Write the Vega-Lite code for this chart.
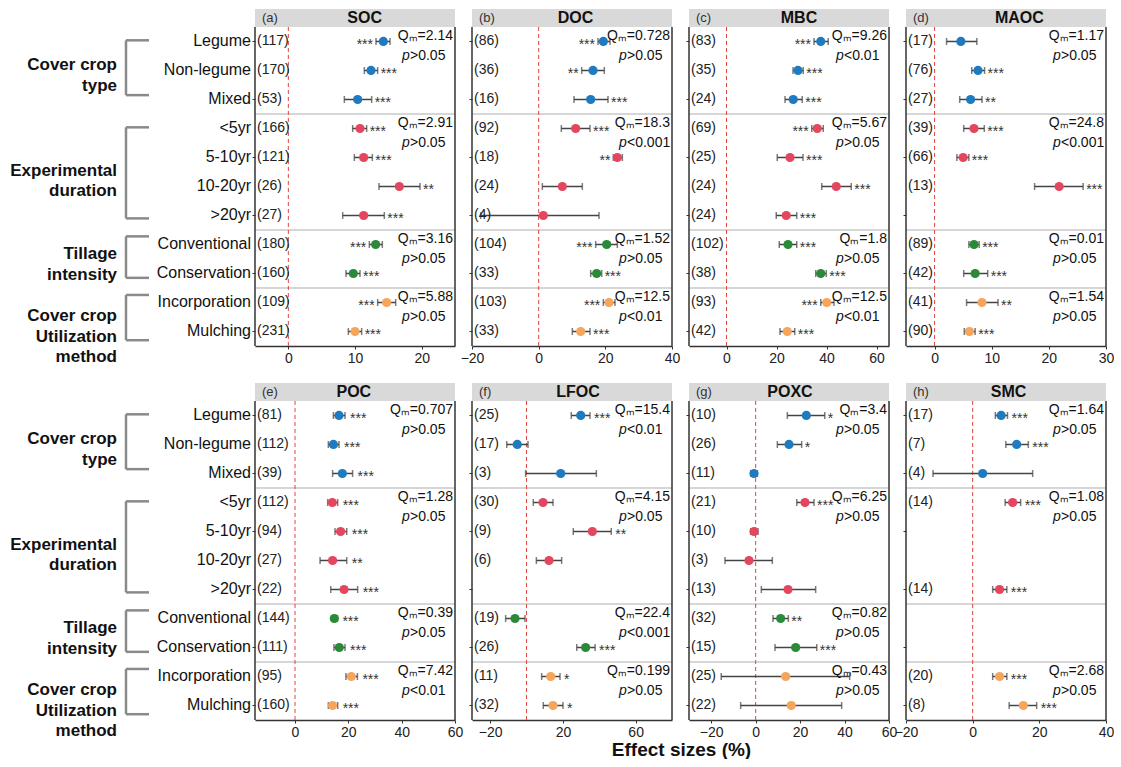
{
"$schema":"https://vega.github.io/schema/vega-lite/v6.json",
"padding":{"left":0,"top":9,"right":0,"bottom":0},
"autosize":{"type":"pad"},
"background":"white",
"bounds":"flush",
"align":"each",
"columns":5,
"spacing":{"row":37,"column":17},
"config":{"font":"Liberation Sans","view":{"stroke":null},
"axis":{"grid":false,"tickColor":"#333333","tickSize":3,"tickWidth":1,"labelFlush":false,"labelOverlap":false,"domainColor":"#333333"},
"axisX":{"domainWidth":1.5,"labelFontSize":14,"labelColor":"#222222","labelPadding":2},
"axisY":{"domain":false,"labels":false}},
"datasets":{
"cats":[
{"row":1,"cat":"Legume"},{"row":2,"cat":"Non-legume"},{"row":3,"cat":"Mixed"},{"row":4,"cat":"<5yr"},{"row":5,"cat":"5-10yr"},{"row":6,"cat":"10-20yr"},{"row":7,"cat":">20yr"},{"row":8,"cat":"Conventional"},{"row":9,"cat":"Conservation"},{"row":10,"cat":"Incorporation"},{"row":11,"cat":"Mulching"}],
"groups":[
{"label":"Cover crop\ntype","mid":1.82,"top":0.96,"bottom":2.85},
{"label":"Experimental\nduration","mid":5.46,"top":3.96,"bottom":7.1},
{"label":"Tillage\nintensity","mid":8.33,"top":7.72,"bottom":9.15},
{"label":"Cover crop\nUtilization\nmethod","mid":10.47,"top":9.74,"bottom":11.3}],
"stats":[
{"p":"SOC","row":1,"q":"2.14","pv":">0.05"},{"p":"SOC","row":4,"q":"2.91","pv":">0.05"},{"p":"SOC","row":8,"q":"3.16","pv":">0.05"},{"p":"SOC","row":10,"q":"5.88","pv":">0.05"},
{"p":"DOC","row":1,"q":"0.728","pv":">0.05"},{"p":"DOC","row":4,"q":"18.3","pv":"<0.001"},{"p":"DOC","row":8,"q":"1.52","pv":">0.05"},{"p":"DOC","row":10,"q":"12.5","pv":"<0.01"},
{"p":"MBC","row":1,"q":"9.26","pv":"<0.01"},{"p":"MBC","row":4,"q":"5.67","pv":">0.05"},{"p":"MBC","row":8,"q":"1.8","pv":">0.05"},{"p":"MBC","row":10,"q":"12.5","pv":"<0.01"},
{"p":"MAOC","row":1,"q":"1.17","pv":">0.05"},{"p":"MAOC","row":4,"q":"24.8","pv":"<0.001"},{"p":"MAOC","row":8,"q":"0.01","pv":">0.05"},{"p":"MAOC","row":10,"q":"1.54","pv":">0.05"},
{"p":"POC","row":1,"q":"0.707","pv":">0.05"},{"p":"POC","row":4,"q":"1.28","pv":">0.05"},{"p":"POC","row":8,"q":"0.39","pv":">0.05"},{"p":"POC","row":10,"q":"7.42","pv":"<0.01"},
{"p":"LFOC","row":1,"q":"15.4","pv":"<0.01"},{"p":"LFOC","row":4,"q":"4.15","pv":">0.05"},{"p":"LFOC","row":8,"q":"22.4","pv":"<0.001"},{"p":"LFOC","row":10,"q":"0.199","pv":">0.05"},
{"p":"POXC","row":1,"q":"3.4","pv":">0.05"},{"p":"POXC","row":4,"q":"6.25","pv":">0.05"},{"p":"POXC","row":8,"q":"0.82","pv":">0.05"},{"p":"POXC","row":10,"q":"0.43","pv":">0.05"},
{"p":"SMC","row":1,"q":"1.64","pv":">0.05"},{"p":"SMC","row":4,"q":"1.08","pv":">0.05"},{"p":"SMC","row":10,"q":"2.68","pv":">0.05"}],
"rows":[
{"p":"SOC","row":1,"n":117,"est":14.25,"lo":13.15,"hi":15.25,"s":"***","side":"L"},
{"p":"SOC","row":2,"n":170,"est":12.4,"lo":11.4,"hi":13.4,"s":"***","side":"R"},
{"p":"SOC","row":3,"n":53,"est":10.4,"lo":8.4,"hi":12.5,"s":"***","side":"R"},
{"p":"SOC","row":4,"n":166,"est":10.75,"lo":9.65,"hi":11.75,"s":"***","side":"R"},
{"p":"SOC","row":5,"n":121,"est":11.3,"lo":9.9,"hi":12.6,"s":"***","side":"R"},
{"p":"SOC","row":6,"n":26,"est":16.65,"lo":13.6,"hi":19.75,"s":"**","side":"R"},
{"p":"SOC","row":7,"n":27,"est":11.3,"lo":8.15,"hi":14.4,"s":"***","side":"R"},
{"p":"SOC","row":8,"n":180,"est":13.1,"lo":12.15,"hi":14.1,"s":"***","side":"L"},
{"p":"SOC","row":9,"n":160,"est":9.75,"lo":8.65,"hi":10.75,"s":"***","side":"R"},
{"p":"SOC","row":10,"n":109,"est":14.75,"lo":13.4,"hi":16.1,"s":"***","side":"L"},
{"p":"SOC","row":11,"n":231,"est":10.0,"lo":9.0,"hi":11.0,"s":"***","side":"R"},
{"p":"DOC","row":1,"n":86,"est":19.4,"lo":17.8,"hi":21.4,"s":"***","side":"L"},
{"p":"DOC","row":2,"n":36,"est":16.3,"lo":12.9,"hi":19.7,"s":"**","side":"L"},
{"p":"DOC","row":3,"n":16,"est":15.6,"lo":10.6,"hi":20.8,"s":"***","side":"R"},
{"p":"DOC","row":4,"n":92,"est":11.1,"lo":6.8,"hi":15.4,"s":"***","side":"R"},
{"p":"DOC","row":5,"n":18,"est":23.6,"lo":22.4,"hi":25.1,"s":"**","side":"L"},
{"p":"DOC","row":6,"n":24,"est":7.1,"lo":1.1,"hi":13.1,"s":"","side":"N"},
{"p":"DOC","row":7,"n":4,"est":1.4,"lo":-17.4,"hi":18.1,"s":"","side":"N"},
{"p":"DOC","row":8,"n":104,"est":20.4,"lo":17.1,"hi":23.6,"s":"***","side":"L"},
{"p":"DOC","row":9,"n":33,"est":17.4,"lo":15.6,"hi":18.9,"s":"***","side":"R"},
{"p":"DOC","row":10,"n":103,"est":21.1,"lo":19.4,"hi":22.9,"s":"***","side":"L"},
{"p":"DOC","row":11,"n":33,"est":12.6,"lo":10.1,"hi":15.4,"s":"***","side":"R"},
{"p":"MBC","row":1,"n":83,"est":37.7,"lo":35.0,"hi":40.7,"s":"***","side":"L"},
{"p":"MBC","row":2,"n":35,"est":28.6,"lo":26.6,"hi":30.7,"s":"***","side":"R"},
{"p":"MBC","row":3,"n":24,"est":26.7,"lo":23.4,"hi":30.3,"s":"***","side":"R"},
{"p":"MBC","row":4,"n":69,"est":36.3,"lo":34.1,"hi":38.7,"s":"***","side":"L"},
{"p":"MBC","row":5,"n":25,"est":25.4,"lo":20.3,"hi":30.6,"s":"***","side":"R"},
{"p":"MBC","row":6,"n":24,"est":43.9,"lo":38.1,"hi":49.9,"s":"***","side":"R"},
{"p":"MBC","row":7,"n":24,"est":23.9,"lo":19.9,"hi":28.1,"s":"***","side":"R"},
{"p":"MBC","row":8,"n":102,"est":24.6,"lo":21.1,"hi":28.1,"s":"***","side":"R"},
{"p":"MBC","row":9,"n":38,"est":37.7,"lo":35.7,"hi":39.9,"s":"***","side":"R"},
{"p":"MBC","row":10,"n":93,"est":40.1,"lo":37.7,"hi":43.0,"s":"***","side":"L"},
{"p":"MBC","row":11,"n":42,"est":24.3,"lo":21.4,"hi":27.3,"s":"***","side":"R"},
{"p":"MAOC","row":1,"n":17,"est":4.6,"lo":2.1,"hi":7.4,"s":"","side":"N"},
{"p":"MAOC","row":2,"n":76,"est":7.6,"lo":6.5,"hi":8.75,"s":"***","side":"R"},
{"p":"MAOC","row":3,"n":27,"est":6.3,"lo":4.4,"hi":8.3,"s":"**","side":"R"},
{"p":"MAOC","row":4,"n":39,"est":6.9,"lo":5.1,"hi":8.7,"s":"***","side":"R"},
{"p":"MAOC","row":5,"n":66,"est":5.0,"lo":3.9,"hi":6.0,"s":"***","side":"R"},
{"p":"MAOC","row":6,"n":13,"est":21.8,"lo":17.5,"hi":26.0,"s":"***","side":"R"},
{"p":"MAOC","row":8,"n":89,"est":6.9,"lo":6.0,"hi":7.8,"s":"***","side":"R"},
{"p":"MAOC","row":9,"n":42,"est":7.1,"lo":5.1,"hi":9.3,"s":"***","side":"R"},
{"p":"MAOC","row":10,"n":41,"est":8.3,"lo":5.6,"hi":11.1,"s":"**","side":"R"},
{"p":"MAOC","row":11,"n":90,"est":6.1,"lo":5.2,"hi":7.1,"s":"***","side":"R"},
{"p":"POC","row":1,"n":81,"est":16.5,"lo":14.4,"hi":18.75,"s":"***","side":"R"},
{"p":"POC","row":2,"n":112,"est":14.4,"lo":12.5,"hi":16.5,"s":"***","side":"R"},
{"p":"POC","row":3,"n":39,"est":17.75,"lo":14.1,"hi":21.6,"s":"***","side":"R"},
{"p":"POC","row":4,"n":112,"est":14.0,"lo":12.25,"hi":16.0,"s":"***","side":"R"},
{"p":"POC","row":5,"n":94,"est":17.1,"lo":15.0,"hi":19.4,"s":"***","side":"R"},
{"p":"POC","row":6,"n":27,"est":14.1,"lo":9.4,"hi":19.4,"s":"**","side":"R"},
{"p":"POC","row":7,"n":22,"est":18.4,"lo":13.4,"hi":23.5,"s":"***","side":"R"},
{"p":"POC","row":8,"n":144,"est":14.75,"lo":13.75,"hi":15.9,"s":"***","side":"R"},
{"p":"POC","row":9,"n":111,"est":16.6,"lo":14.6,"hi":18.75,"s":"***","side":"R"},
{"p":"POC","row":10,"n":95,"est":21.1,"lo":19.1,"hi":23.4,"s":"***","side":"R"},
{"p":"POC","row":11,"n":160,"est":14.1,"lo":12.5,"hi":16.0,"s":"***","side":"R"},
{"p":"LFOC","row":1,"n":25,"est":29.8,"lo":24.6,"hi":34.9,"s":"***","side":"R"},
{"p":"LFOC","row":2,"n":17,"est":-5.1,"lo":-10.9,"hi":0.8,"s":"","side":"N"},
{"p":"LFOC","row":3,"n":3,"est":18.8,"lo":-0.5,"hi":38.4,"s":"","side":"N"},
{"p":"LFOC","row":4,"n":30,"est":9.05,"lo":3.7,"hi":14.55,"s":"","side":"N"},
{"p":"LFOC","row":5,"n":9,"est":36.2,"lo":25.7,"hi":46.6,"s":"**","side":"R"},
{"p":"LFOC","row":6,"n":6,"est":12.35,"lo":5.4,"hi":19.3,"s":"","side":"N"},
{"p":"LFOC","row":8,"n":19,"est":-6.35,"lo":-11.5,"hi":-0.85,"s":"","side":"N"},
{"p":"LFOC","row":9,"n":26,"est":32.5,"lo":27.6,"hi":37.7,"s":"***","side":"R"},
{"p":"LFOC","row":10,"n":11,"est":13.3,"lo":8.3,"hi":18.4,"s":"*","side":"R"},
{"p":"LFOC","row":11,"n":32,"est":14.55,"lo":9.2,"hi":20.05,"s":"*","side":"R"},
{"p":"POXC","row":1,"n":10,"est":22.8,"lo":14.25,"hi":31.1,"s":"*","side":"R"},
{"p":"POXC","row":2,"n":26,"est":15.0,"lo":9.75,"hi":20.7,"s":"*","side":"R"},
{"p":"POXC","row":3,"n":11,"est":-0.75,"lo":-2.25,"hi":0.75,"s":"","side":"N"},
{"p":"POXC","row":4,"n":21,"est":22.2,"lo":18.5,"hi":26.25,"s":"***","side":"R"},
{"p":"POXC","row":5,"n":10,"est":-0.75,"lo":-2.25,"hi":1.05,"s":"","side":"N"},
{"p":"POXC","row":6,"n":3,"est":-3.0,"lo":-13.8,"hi":7.5,"s":"","side":"N"},
{"p":"POXC","row":7,"n":13,"est":14.55,"lo":2.55,"hi":27.0,"s":"","side":"N"},
{"p":"POXC","row":8,"n":32,"est":11.25,"lo":7.8,"hi":14.7,"s":"**","side":"R"},
{"p":"POXC","row":9,"n":15,"est":18.0,"lo":8.7,"hi":27.5,"s":"***","side":"R"},
{"p":"POXC","row":10,"n":25,"est":13.5,"lo":-15.5,"hi":42.3,"s":"","side":"N"},
{"p":"POXC","row":11,"n":22,"est":16.0,"lo":-6.75,"hi":38.7,"s":"","side":"N"},
{"p":"SMC","row":1,"n":17,"est":8.55,"lo":6.8,"hi":10.45,"s":"***","side":"R"},
{"p":"SMC","row":2,"n":7,"est":13.2,"lo":9.95,"hi":16.7,"s":"***","side":"R"},
{"p":"SMC","row":3,"n":4,"est":3.0,"lo":-11.9,"hi":18.0,"s":"","side":"N"},
{"p":"SMC","row":4,"n":14,"est":12.0,"lo":9.75,"hi":14.4,"s":"***","side":"R"},
{"p":"SMC","row":7,"n":14,"est":8.06,"lo":6.0,"hi":10.25,"s":"***","side":"R"},
{"p":"SMC","row":10,"n":20,"est":8.06,"lo":6.0,"hi":10.25,"s":"***","side":"R"},
{"p":"SMC","row":11,"n":8,"est":15.2,"lo":10.95,"hi":19.2,"s":"***","side":"R"}]
},
"concat":[
{"width":238,"height":337,"data":{"name":"groups"},"layer":[
{"mark":{"type":"text","align":"right","baseline":"middle","fontSize":17,"fontWeight":"bold","lineBreak":"\n","lineHeight":20.5,"color":"#111111"},"encoding":{"x":{"datum":117,"type":"quantitative","scale":{"domain":[0,238],"nice":false,"zero":false},"axis":null},"y":{"field":"mid","type":"quantitative","scale":{"domain":[-0.12,11.5],"reverse":true,"nice":false,"zero":false},"axis":null},"text":{"field":"label"}}},
{"mark":{"type":"rule","color":"#8a8a8a","strokeWidth":2.5},"encoding":{"x":{"datum":126,"type":"quantitative"},"y":{"field":"top","type":"quantitative"},"y2":{"field":"bottom"}}},
{"mark":{"type":"rule","color":"#8a8a8a","strokeWidth":2.5},"encoding":{"x":{"datum":126,"type":"quantitative"},"x2":{"datum":149},"y":{"field":"top","type":"quantitative"}}},
{"mark":{"type":"rule","color":"#8a8a8a","strokeWidth":2.5},"encoding":{"x":{"datum":126,"type":"quantitative"},"x2":{"datum":149},"y":{"field":"bottom","type":"quantitative"}}},
{"data":{"name":"cats"},"mark":{"type":"text","align":"right","baseline":"middle","fontSize":16,"color":"#111111"},"encoding":{"x":{"datum":251,"type":"quantitative"},"y":{"field":"row","type":"quantitative"},"text":{"field":"cat"}}}]},

{"width":200,"height":337,"data":{"name":"rows"},"transform":[{"filter":"datum.p === 'SOC'"}],"layer":[
{"data":{"values":[{}]},"mark":{"type":"rect","color":"#d9d9d9"},"encoding":{"x":{"datum":-5,"type":"quantitative","scale":{"domain":[-5,25],"nice":false,"zero":false},"axis":{"values":[0,10,20],"title":null}},"x2":{"datum":25},"y":{"datum":-0.12,"type":"quantitative","scale":{"domain":[-0.12,11.5],"reverse":true,"nice":false,"zero":false},"axis":{"values":[1,2,3,4,5,6,7,8,9,10,11],"title":null,"labels":false}},"y2":{"datum":0.5}}},
{"data":{"values":[{"b":3.5},{"b":7.5},{"b":9.5}]},"mark":{"type":"rule","color":"#c8c8c8","strokeWidth":1.5},"encoding":{"x":{"datum":-5,"type":"quantitative"},"x2":{"datum":25},"y":{"field":"b","type":"quantitative"}}},
{"data":{"values":[{}]},"mark":{"type":"rule","color":"#e0443f","strokeDash":[4,3],"strokeWidth":1},"encoding":{"x":{"datum":0,"type":"quantitative"},"y":{"datum":0.5,"type":"quantitative"},"y2":{"datum":11.5}}},
{"data":{"values":[{"e":-5},{"e":25}]},"mark":{"type":"rule","color":"#333333","strokeWidth":1.5},"encoding":{"x":{"field":"e","type":"quantitative"},"y":{"datum":0.5,"type":"quantitative"},"y2":{"datum":11.5}}},
{"mark":{"type":"rule","color":"#444444","strokeWidth":1.5},"encoding":{"x":{"field":"lo","type":"quantitative"},"x2":{"field":"hi"},"y":{"field":"row","type":"quantitative"}}},
{"mark":{"type":"tick","orient":"vertical","color":"#444444","size":7,"thickness":1.5},"encoding":{"x":{"field":"lo","type":"quantitative"},"y":{"field":"row","type":"quantitative"}}},
{"mark":{"type":"tick","orient":"vertical","color":"#444444","size":7,"thickness":1.5},"encoding":{"x":{"field":"hi","type":"quantitative"},"y":{"field":"row","type":"quantitative"}}},
{"mark":{"type":"circle","size":85,"opacity":1},"encoding":{"x":{"field":"est","type":"quantitative"},"y":{"field":"row","type":"quantitative"},"color":{"field":"row","type":"quantitative","scale":{"type":"threshold","domain":[3.5,7.5,9.5],"range":["#1f7bbf","#e4465f","#2a8a3a","#f6a55c"]},"legend":null}}},
{"transform":[{"calculate":"'(' + datum.n + ')'","as":"nt"}],"mark":{"type":"text","align":"left","baseline":"middle","dx":2,"fontSize":14,"color":"#222222"},"encoding":{"x":{"datum":-5,"type":"quantitative"},"y":{"field":"row","type":"quantitative"},"text":{"field":"nt"}}},
{"transform":[{"filter":"datum.side === 'L'"}],"mark":{"type":"text","align":"right","baseline":"middle","dx":-3,"dy":4,"fontSize":14,"color":"#333333"},"encoding":{"x":{"field":"lo","type":"quantitative"},"y":{"field":"row","type":"quantitative"},"text":{"field":"s"}}},
{"transform":[{"filter":"datum.side === 'R'"}],"mark":{"type":"text","align":"left","baseline":"middle","dx":3,"dy":4,"fontSize":14,"color":"#333333"},"encoding":{"x":{"field":"hi","type":"quantitative"},"y":{"field":"row","type":"quantitative"},"text":{"field":"s"}}},
{"data":{"name":"stats"},"transform":[{"filter":"datum.p === 'SOC'"},{"calculate":"'Qₘ=' + datum.q","as":"qt"}],"mark":{"type":"text","align":"right","baseline":"middle","dx":-2,"dy":-5,"fontSize":14,"color":"#111111"},"encoding":{"x":{"datum":25,"type":"quantitative"},"y":{"field":"row","type":"quantitative"},"text":{"field":"qt"}}},
{"data":{"name":"stats"},"transform":[{"filter":"datum.p === 'SOC'"}],"mark":{"type":"text","align":"left","baseline":"middle","dx":-53,"dy":15,"fontSize":14,"fontStyle":"italic","color":"#111111","text":"p"},"encoding":{"x":{"datum":25,"type":"quantitative"},"y":{"field":"row","type":"quantitative"}}},
{"data":{"name":"stats"},"transform":[{"filter":"datum.p === 'SOC'"}],"mark":{"type":"text","align":"left","baseline":"middle","dx":-45,"dy":15,"fontSize":14,"color":"#111111"},"encoding":{"x":{"datum":25,"type":"quantitative"},"y":{"field":"row","type":"quantitative"},"text":{"field":"pv"}}},
{"data":{"values":[{}]},"mark":{"type":"text","align":"left","baseline":"middle","dx":7,"fontSize":13,"color":"#333333","text":"(a)"},"encoding":{"x":{"datum":-5,"type":"quantitative"},"y":{"datum":0.19,"type":"quantitative"}}},
{"data":{"values":[{}]},"mark":{"type":"text","align":"center","baseline":"middle","fontSize":16,"fontWeight":"bold","color":"#111111","text":"SOC"},"encoding":{"x":{"datum":11.45,"type":"quantitative"},"y":{"datum":0.19,"type":"quantitative"}}}]},

{"width":200,"height":337,"data":{"name":"rows"},"transform":[{"filter":"datum.p === 'DOC'"}],"layer":[
{"data":{"values":[{}]},"mark":{"type":"rect","color":"#d9d9d9"},"encoding":{"x":{"datum":-20,"type":"quantitative","scale":{"domain":[-20,40],"nice":false,"zero":false},"axis":{"values":[-20,0,20,40],"title":null}},"x2":{"datum":40},"y":{"datum":-0.12,"type":"quantitative","scale":{"domain":[-0.12,11.5],"reverse":true,"nice":false,"zero":false},"axis":{"values":[1,2,3,4,5,6,7,8,9,10,11],"title":null,"labels":false}},"y2":{"datum":0.5}}},
{"data":{"values":[{"b":3.5},{"b":7.5},{"b":9.5}]},"mark":{"type":"rule","color":"#c8c8c8","strokeWidth":1.5},"encoding":{"x":{"datum":-20,"type":"quantitative"},"x2":{"datum":40},"y":{"field":"b","type":"quantitative"}}},
{"data":{"values":[{}]},"mark":{"type":"rule","color":"#e0443f","strokeDash":[4,3],"strokeWidth":1},"encoding":{"x":{"datum":0,"type":"quantitative"},"y":{"datum":0.5,"type":"quantitative"},"y2":{"datum":11.5}}},
{"data":{"values":[{"e":-20},{"e":40}]},"mark":{"type":"rule","color":"#333333","strokeWidth":1.5},"encoding":{"x":{"field":"e","type":"quantitative"},"y":{"datum":0.5,"type":"quantitative"},"y2":{"datum":11.5}}},
{"mark":{"type":"rule","color":"#444444","strokeWidth":1.5},"encoding":{"x":{"field":"lo","type":"quantitative"},"x2":{"field":"hi"},"y":{"field":"row","type":"quantitative"}}},
{"mark":{"type":"tick","orient":"vertical","color":"#444444","size":7,"thickness":1.5},"encoding":{"x":{"field":"lo","type":"quantitative"},"y":{"field":"row","type":"quantitative"}}},
{"mark":{"type":"tick","orient":"vertical","color":"#444444","size":7,"thickness":1.5},"encoding":{"x":{"field":"hi","type":"quantitative"},"y":{"field":"row","type":"quantitative"}}},
{"mark":{"type":"circle","size":85,"opacity":1},"encoding":{"x":{"field":"est","type":"quantitative"},"y":{"field":"row","type":"quantitative"},"color":{"field":"row","type":"quantitative","scale":{"type":"threshold","domain":[3.5,7.5,9.5],"range":["#1f7bbf","#e4465f","#2a8a3a","#f6a55c"]},"legend":null}}},
{"transform":[{"calculate":"'(' + datum.n + ')'","as":"nt"}],"mark":{"type":"text","align":"left","baseline":"middle","dx":2,"fontSize":14,"color":"#222222"},"encoding":{"x":{"datum":-20,"type":"quantitative"},"y":{"field":"row","type":"quantitative"},"text":{"field":"nt"}}},
{"transform":[{"filter":"datum.side === 'L'"}],"mark":{"type":"text","align":"right","baseline":"middle","dx":-3,"dy":4,"fontSize":14,"color":"#333333"},"encoding":{"x":{"field":"lo","type":"quantitative"},"y":{"field":"row","type":"quantitative"},"text":{"field":"s"}}},
{"transform":[{"filter":"datum.side === 'R'"}],"mark":{"type":"text","align":"left","baseline":"middle","dx":3,"dy":4,"fontSize":14,"color":"#333333"},"encoding":{"x":{"field":"hi","type":"quantitative"},"y":{"field":"row","type":"quantitative"},"text":{"field":"s"}}},
{"data":{"name":"stats"},"transform":[{"filter":"datum.p === 'DOC'"},{"calculate":"'Qₘ=' + datum.q","as":"qt"}],"mark":{"type":"text","align":"right","baseline":"middle","dx":-2,"dy":-5,"fontSize":14,"color":"#111111"},"encoding":{"x":{"datum":40,"type":"quantitative"},"y":{"field":"row","type":"quantitative"},"text":{"field":"qt"}}},
{"data":{"name":"stats"},"transform":[{"filter":"datum.p === 'DOC'"}],"mark":{"type":"text","align":"left","baseline":"middle","dx":-53,"dy":15,"fontSize":14,"fontStyle":"italic","color":"#111111","text":"p"},"encoding":{"x":{"datum":40,"type":"quantitative"},"y":{"field":"row","type":"quantitative"}}},
{"data":{"name":"stats"},"transform":[{"filter":"datum.p === 'DOC'"}],"mark":{"type":"text","align":"left","baseline":"middle","dx":-45,"dy":15,"fontSize":14,"color":"#111111"},"encoding":{"x":{"datum":40,"type":"quantitative"},"y":{"field":"row","type":"quantitative"},"text":{"field":"pv"}}},
{"data":{"values":[{}]},"mark":{"type":"text","align":"left","baseline":"middle","dx":7,"fontSize":13,"color":"#333333","text":"(b)"},"encoding":{"x":{"datum":-20,"type":"quantitative"},"y":{"datum":0.19,"type":"quantitative"}}},
{"data":{"values":[{}]},"mark":{"type":"text","align":"center","baseline":"middle","fontSize":16,"fontWeight":"bold","color":"#111111","text":"DOC"},"encoding":{"x":{"datum":11.05,"type":"quantitative"},"y":{"datum":0.19,"type":"quantitative"}}}]},

{"width":200,"height":337,"data":{"name":"rows"},"transform":[{"filter":"datum.p === 'MBC'"}],"layer":[
{"data":{"values":[{}]},"mark":{"type":"rect","color":"#d9d9d9"},"encoding":{"x":{"datum":-15,"type":"quantitative","scale":{"domain":[-15,65],"nice":false,"zero":false},"axis":{"values":[0,20,40,60],"title":null}},"x2":{"datum":65},"y":{"datum":-0.12,"type":"quantitative","scale":{"domain":[-0.12,11.5],"reverse":true,"nice":false,"zero":false},"axis":{"values":[1,2,3,4,5,6,7,8,9,10,11],"title":null,"labels":false}},"y2":{"datum":0.5}}},
{"data":{"values":[{"b":3.5},{"b":7.5},{"b":9.5}]},"mark":{"type":"rule","color":"#c8c8c8","strokeWidth":1.5},"encoding":{"x":{"datum":-15,"type":"quantitative"},"x2":{"datum":65},"y":{"field":"b","type":"quantitative"}}},
{"data":{"values":[{}]},"mark":{"type":"rule","color":"#e0443f","strokeDash":[4,3],"strokeWidth":1},"encoding":{"x":{"datum":0,"type":"quantitative"},"y":{"datum":0.5,"type":"quantitative"},"y2":{"datum":11.5}}},
{"data":{"values":[{"e":-15},{"e":65}]},"mark":{"type":"rule","color":"#333333","strokeWidth":1.5},"encoding":{"x":{"field":"e","type":"quantitative"},"y":{"datum":0.5,"type":"quantitative"},"y2":{"datum":11.5}}},
{"mark":{"type":"rule","color":"#444444","strokeWidth":1.5},"encoding":{"x":{"field":"lo","type":"quantitative"},"x2":{"field":"hi"},"y":{"field":"row","type":"quantitative"}}},
{"mark":{"type":"tick","orient":"vertical","color":"#444444","size":7,"thickness":1.5},"encoding":{"x":{"field":"lo","type":"quantitative"},"y":{"field":"row","type":"quantitative"}}},
{"mark":{"type":"tick","orient":"vertical","color":"#444444","size":7,"thickness":1.5},"encoding":{"x":{"field":"hi","type":"quantitative"},"y":{"field":"row","type":"quantitative"}}},
{"mark":{"type":"circle","size":85,"opacity":1},"encoding":{"x":{"field":"est","type":"quantitative"},"y":{"field":"row","type":"quantitative"},"color":{"field":"row","type":"quantitative","scale":{"type":"threshold","domain":[3.5,7.5,9.5],"range":["#1f7bbf","#e4465f","#2a8a3a","#f6a55c"]},"legend":null}}},
{"transform":[{"calculate":"'(' + datum.n + ')'","as":"nt"}],"mark":{"type":"text","align":"left","baseline":"middle","dx":2,"fontSize":14,"color":"#222222"},"encoding":{"x":{"datum":-15,"type":"quantitative"},"y":{"field":"row","type":"quantitative"},"text":{"field":"nt"}}},
{"transform":[{"filter":"datum.side === 'L'"}],"mark":{"type":"text","align":"right","baseline":"middle","dx":-3,"dy":4,"fontSize":14,"color":"#333333"},"encoding":{"x":{"field":"lo","type":"quantitative"},"y":{"field":"row","type":"quantitative"},"text":{"field":"s"}}},
{"transform":[{"filter":"datum.side === 'R'"}],"mark":{"type":"text","align":"left","baseline":"middle","dx":3,"dy":4,"fontSize":14,"color":"#333333"},"encoding":{"x":{"field":"hi","type":"quantitative"},"y":{"field":"row","type":"quantitative"},"text":{"field":"s"}}},
{"data":{"name":"stats"},"transform":[{"filter":"datum.p === 'MBC'"},{"calculate":"'Qₘ=' + datum.q","as":"qt"}],"mark":{"type":"text","align":"right","baseline":"middle","dx":-2,"dy":-5,"fontSize":14,"color":"#111111"},"encoding":{"x":{"datum":65,"type":"quantitative"},"y":{"field":"row","type":"quantitative"},"text":{"field":"qt"}}},
{"data":{"name":"stats"},"transform":[{"filter":"datum.p === 'MBC'"}],"mark":{"type":"text","align":"left","baseline":"middle","dx":-53,"dy":15,"fontSize":14,"fontStyle":"italic","color":"#111111","text":"p"},"encoding":{"x":{"datum":65,"type":"quantitative"},"y":{"field":"row","type":"quantitative"}}},
{"data":{"name":"stats"},"transform":[{"filter":"datum.p === 'MBC'"}],"mark":{"type":"text","align":"left","baseline":"middle","dx":-45,"dy":15,"fontSize":14,"color":"#111111"},"encoding":{"x":{"datum":65,"type":"quantitative"},"y":{"field":"row","type":"quantitative"},"text":{"field":"pv"}}},
{"data":{"values":[{}]},"mark":{"type":"text","align":"left","baseline":"middle","dx":7,"fontSize":13,"color":"#333333","text":"(c)"},"encoding":{"x":{"datum":-15,"type":"quantitative"},"y":{"datum":0.19,"type":"quantitative"}}},
{"data":{"values":[{}]},"mark":{"type":"text","align":"center","baseline":"middle","fontSize":16,"fontWeight":"bold","color":"#111111","text":"MBC"},"encoding":{"x":{"datum":29,"type":"quantitative"},"y":{"datum":0.19,"type":"quantitative"}}}]},

{"width":200,"height":337,"data":{"name":"rows"},"transform":[{"filter":"datum.p === 'MAOC'"}],"layer":[
{"data":{"values":[{}]},"mark":{"type":"rect","color":"#d9d9d9"},"encoding":{"x":{"datum":-5,"type":"quantitative","scale":{"domain":[-5,30],"nice":false,"zero":false},"axis":{"values":[0,10,20,30],"title":null}},"x2":{"datum":30},"y":{"datum":-0.12,"type":"quantitative","scale":{"domain":[-0.12,11.5],"reverse":true,"nice":false,"zero":false},"axis":{"values":[1,2,3,4,5,6,7,8,9,10,11],"title":null,"labels":false}},"y2":{"datum":0.5}}},
{"data":{"values":[{"b":3.5},{"b":7.5},{"b":9.5}]},"mark":{"type":"rule","color":"#c8c8c8","strokeWidth":1.5},"encoding":{"x":{"datum":-5,"type":"quantitative"},"x2":{"datum":30},"y":{"field":"b","type":"quantitative"}}},
{"data":{"values":[{}]},"mark":{"type":"rule","color":"#e0443f","strokeDash":[4,3],"strokeWidth":1},"encoding":{"x":{"datum":0,"type":"quantitative"},"y":{"datum":0.5,"type":"quantitative"},"y2":{"datum":11.5}}},
{"data":{"values":[{"e":-5},{"e":30}]},"mark":{"type":"rule","color":"#333333","strokeWidth":1.5},"encoding":{"x":{"field":"e","type":"quantitative"},"y":{"datum":0.5,"type":"quantitative"},"y2":{"datum":11.5}}},
{"mark":{"type":"rule","color":"#444444","strokeWidth":1.5},"encoding":{"x":{"field":"lo","type":"quantitative"},"x2":{"field":"hi"},"y":{"field":"row","type":"quantitative"}}},
{"mark":{"type":"tick","orient":"vertical","color":"#444444","size":7,"thickness":1.5},"encoding":{"x":{"field":"lo","type":"quantitative"},"y":{"field":"row","type":"quantitative"}}},
{"mark":{"type":"tick","orient":"vertical","color":"#444444","size":7,"thickness":1.5},"encoding":{"x":{"field":"hi","type":"quantitative"},"y":{"field":"row","type":"quantitative"}}},
{"mark":{"type":"circle","size":85,"opacity":1},"encoding":{"x":{"field":"est","type":"quantitative"},"y":{"field":"row","type":"quantitative"},"color":{"field":"row","type":"quantitative","scale":{"type":"threshold","domain":[3.5,7.5,9.5],"range":["#1f7bbf","#e4465f","#2a8a3a","#f6a55c"]},"legend":null}}},
{"transform":[{"calculate":"'(' + datum.n + ')'","as":"nt"}],"mark":{"type":"text","align":"left","baseline":"middle","dx":2,"fontSize":14,"color":"#222222"},"encoding":{"x":{"datum":-5,"type":"quantitative"},"y":{"field":"row","type":"quantitative"},"text":{"field":"nt"}}},
{"transform":[{"filter":"datum.side === 'L'"}],"mark":{"type":"text","align":"right","baseline":"middle","dx":-3,"dy":4,"fontSize":14,"color":"#333333"},"encoding":{"x":{"field":"lo","type":"quantitative"},"y":{"field":"row","type":"quantitative"},"text":{"field":"s"}}},
{"transform":[{"filter":"datum.side === 'R'"}],"mark":{"type":"text","align":"left","baseline":"middle","dx":3,"dy":4,"fontSize":14,"color":"#333333"},"encoding":{"x":{"field":"hi","type":"quantitative"},"y":{"field":"row","type":"quantitative"},"text":{"field":"s"}}},
{"data":{"name":"stats"},"transform":[{"filter":"datum.p === 'MAOC'"},{"calculate":"'Qₘ=' + datum.q","as":"qt"}],"mark":{"type":"text","align":"right","baseline":"middle","dx":-2,"dy":-5,"fontSize":14,"color":"#111111"},"encoding":{"x":{"datum":30,"type":"quantitative"},"y":{"field":"row","type":"quantitative"},"text":{"field":"qt"}}},
{"data":{"name":"stats"},"transform":[{"filter":"datum.p === 'MAOC'"}],"mark":{"type":"text","align":"left","baseline":"middle","dx":-53,"dy":15,"fontSize":14,"fontStyle":"italic","color":"#111111","text":"p"},"encoding":{"x":{"datum":30,"type":"quantitative"},"y":{"field":"row","type":"quantitative"}}},
{"data":{"name":"stats"},"transform":[{"filter":"datum.p === 'MAOC'"}],"mark":{"type":"text","align":"left","baseline":"middle","dx":-45,"dy":15,"fontSize":14,"color":"#111111"},"encoding":{"x":{"datum":30,"type":"quantitative"},"y":{"field":"row","type":"quantitative"},"text":{"field":"pv"}}},
{"data":{"values":[{}]},"mark":{"type":"text","align":"left","baseline":"middle","dx":7,"fontSize":13,"color":"#333333","text":"(d)"},"encoding":{"x":{"datum":-5,"type":"quantitative"},"y":{"datum":0.19,"type":"quantitative"}}},
{"data":{"values":[{}]},"mark":{"type":"text","align":"center","baseline":"middle","fontSize":16,"fontWeight":"bold","color":"#111111","text":"MAOC"},"encoding":{"x":{"datum":14.85,"type":"quantitative"},"y":{"datum":0.19,"type":"quantitative"}}}]},

{"width":238,"height":337,"data":{"name":"groups"},"layer":[
{"mark":{"type":"text","align":"right","baseline":"middle","fontSize":17,"fontWeight":"bold","lineBreak":"\n","lineHeight":20.5,"color":"#111111"},"encoding":{"x":{"datum":117,"type":"quantitative","scale":{"domain":[0,238],"nice":false,"zero":false},"axis":null},"y":{"field":"mid","type":"quantitative","scale":{"domain":[-0.12,11.5],"reverse":true,"nice":false,"zero":false},"axis":null},"text":{"field":"label"}}},
{"mark":{"type":"rule","color":"#8a8a8a","strokeWidth":2.5},"encoding":{"x":{"datum":126,"type":"quantitative"},"y":{"field":"top","type":"quantitative"},"y2":{"field":"bottom"}}},
{"mark":{"type":"rule","color":"#8a8a8a","strokeWidth":2.5},"encoding":{"x":{"datum":126,"type":"quantitative"},"x2":{"datum":149},"y":{"field":"top","type":"quantitative"}}},
{"mark":{"type":"rule","color":"#8a8a8a","strokeWidth":2.5},"encoding":{"x":{"datum":126,"type":"quantitative"},"x2":{"datum":149},"y":{"field":"bottom","type":"quantitative"}}},
{"data":{"name":"cats"},"mark":{"type":"text","align":"right","baseline":"middle","fontSize":16,"color":"#111111"},"encoding":{"x":{"datum":251,"type":"quantitative"},"y":{"field":"row","type":"quantitative"},"text":{"field":"cat"}}}]},

{"width":200,"height":337,"data":{"name":"rows"},"transform":[{"filter":"datum.p === 'POC'"}],"layer":[
{"data":{"values":[{}]},"mark":{"type":"rect","color":"#d9d9d9"},"encoding":{"x":{"datum":-15,"type":"quantitative","scale":{"domain":[-15,60],"nice":false,"zero":false},"axis":{"values":[0,20,40,60],"title":null}},"x2":{"datum":60},"y":{"datum":-0.12,"type":"quantitative","scale":{"domain":[-0.12,11.5],"reverse":true,"nice":false,"zero":false},"axis":{"values":[1,2,3,4,5,6,7,8,9,10,11],"title":null,"labels":false}},"y2":{"datum":0.5}}},
{"data":{"values":[{"b":3.5},{"b":7.5},{"b":9.5}]},"mark":{"type":"rule","color":"#c8c8c8","strokeWidth":1.5},"encoding":{"x":{"datum":-15,"type":"quantitative"},"x2":{"datum":60},"y":{"field":"b","type":"quantitative"}}},
{"data":{"values":[{}]},"mark":{"type":"rule","color":"#e0443f","strokeDash":[4,3],"strokeWidth":1},"encoding":{"x":{"datum":0,"type":"quantitative"},"y":{"datum":0.5,"type":"quantitative"},"y2":{"datum":11.5}}},
{"data":{"values":[{"e":-15},{"e":60}]},"mark":{"type":"rule","color":"#333333","strokeWidth":1.5},"encoding":{"x":{"field":"e","type":"quantitative"},"y":{"datum":0.5,"type":"quantitative"},"y2":{"datum":11.5}}},
{"mark":{"type":"rule","color":"#444444","strokeWidth":1.5},"encoding":{"x":{"field":"lo","type":"quantitative"},"x2":{"field":"hi"},"y":{"field":"row","type":"quantitative"}}},
{"mark":{"type":"tick","orient":"vertical","color":"#444444","size":7,"thickness":1.5},"encoding":{"x":{"field":"lo","type":"quantitative"},"y":{"field":"row","type":"quantitative"}}},
{"mark":{"type":"tick","orient":"vertical","color":"#444444","size":7,"thickness":1.5},"encoding":{"x":{"field":"hi","type":"quantitative"},"y":{"field":"row","type":"quantitative"}}},
{"mark":{"type":"circle","size":85,"opacity":1},"encoding":{"x":{"field":"est","type":"quantitative"},"y":{"field":"row","type":"quantitative"},"color":{"field":"row","type":"quantitative","scale":{"type":"threshold","domain":[3.5,7.5,9.5],"range":["#1f7bbf","#e4465f","#2a8a3a","#f6a55c"]},"legend":null}}},
{"transform":[{"calculate":"'(' + datum.n + ')'","as":"nt"}],"mark":{"type":"text","align":"left","baseline":"middle","dx":2,"fontSize":14,"color":"#222222"},"encoding":{"x":{"datum":-15,"type":"quantitative"},"y":{"field":"row","type":"quantitative"},"text":{"field":"nt"}}},
{"transform":[{"filter":"datum.side === 'L'"}],"mark":{"type":"text","align":"right","baseline":"middle","dx":-3,"dy":4,"fontSize":14,"color":"#333333"},"encoding":{"x":{"field":"lo","type":"quantitative"},"y":{"field":"row","type":"quantitative"},"text":{"field":"s"}}},
{"transform":[{"filter":"datum.side === 'R'"}],"mark":{"type":"text","align":"left","baseline":"middle","dx":5,"dy":4,"fontSize":14,"color":"#333333"},"encoding":{"x":{"field":"hi","type":"quantitative"},"y":{"field":"row","type":"quantitative"},"text":{"field":"s"}}},
{"data":{"name":"stats"},"transform":[{"filter":"datum.p === 'POC'"},{"calculate":"'Qₘ=' + datum.q","as":"qt"}],"mark":{"type":"text","align":"right","baseline":"middle","dx":-2,"dy":-5,"fontSize":14,"color":"#111111"},"encoding":{"x":{"datum":60,"type":"quantitative"},"y":{"field":"row","type":"quantitative"},"text":{"field":"qt"}}},
{"data":{"name":"stats"},"transform":[{"filter":"datum.p === 'POC'"}],"mark":{"type":"text","align":"left","baseline":"middle","dx":-53,"dy":15,"fontSize":14,"fontStyle":"italic","color":"#111111","text":"p"},"encoding":{"x":{"datum":60,"type":"quantitative"},"y":{"field":"row","type":"quantitative"}}},
{"data":{"name":"stats"},"transform":[{"filter":"datum.p === 'POC'"}],"mark":{"type":"text","align":"left","baseline":"middle","dx":-45,"dy":15,"fontSize":14,"color":"#111111"},"encoding":{"x":{"datum":60,"type":"quantitative"},"y":{"field":"row","type":"quantitative"},"text":{"field":"pv"}}},
{"data":{"values":[{}]},"mark":{"type":"text","align":"left","baseline":"middle","dx":7,"fontSize":13,"color":"#333333","text":"(e)"},"encoding":{"x":{"datum":-15,"type":"quantitative"},"y":{"datum":0.19,"type":"quantitative"}}},
{"data":{"values":[{}]},"mark":{"type":"text","align":"center","baseline":"middle","fontSize":16,"fontWeight":"bold","color":"#111111","text":"POC"},"encoding":{"x":{"datum":22.05,"type":"quantitative"},"y":{"datum":0.19,"type":"quantitative"}}}]},

{"width":200,"height":337,"data":{"name":"rows"},"transform":[{"filter":"datum.p === 'LFOC'"}],"layer":[
{"data":{"values":[{}]},"mark":{"type":"rect","color":"#d9d9d9"},"encoding":{"x":{"datum":-30,"type":"quantitative","scale":{"domain":[-30,80],"nice":false,"zero":false},"axis":{"values":[-20,0,20,40,60,80],"title":"Effect sizes (%)","titleFontSize":19,"titleFontWeight":"bold","titleColor":"#111111","titleX":209,"titleY":29,"titleBaseline":"middle","titleAlign":"center"}},"x2":{"datum":80},"y":{"datum":-0.12,"type":"quantitative","scale":{"domain":[-0.12,11.5],"reverse":true,"nice":false,"zero":false},"axis":{"values":[1,2,3,4,5,6,7,8,9,10,11],"title":null,"labels":false}},"y2":{"datum":0.5}}},
{"data":{"values":[{"b":3.5},{"b":7.5},{"b":9.5}]},"mark":{"type":"rule","color":"#c8c8c8","strokeWidth":1.5},"encoding":{"x":{"datum":-30,"type":"quantitative"},"x2":{"datum":80},"y":{"field":"b","type":"quantitative"}}},
{"data":{"values":[{}]},"mark":{"type":"rule","color":"#e0443f","strokeDash":[4,3],"strokeWidth":1},"encoding":{"x":{"datum":0,"type":"quantitative"},"y":{"datum":0.5,"type":"quantitative"},"y2":{"datum":11.5}}},
{"data":{"values":[{"e":-30},{"e":80}]},"mark":{"type":"rule","color":"#333333","strokeWidth":1.5},"encoding":{"x":{"field":"e","type":"quantitative"},"y":{"datum":0.5,"type":"quantitative"},"y2":{"datum":11.5}}},
{"mark":{"type":"rule","color":"#444444","strokeWidth":1.5},"encoding":{"x":{"field":"lo","type":"quantitative"},"x2":{"field":"hi"},"y":{"field":"row","type":"quantitative"}}},
{"mark":{"type":"tick","orient":"vertical","color":"#444444","size":7,"thickness":1.5},"encoding":{"x":{"field":"lo","type":"quantitative"},"y":{"field":"row","type":"quantitative"}}},
{"mark":{"type":"tick","orient":"vertical","color":"#444444","size":7,"thickness":1.5},"encoding":{"x":{"field":"hi","type":"quantitative"},"y":{"field":"row","type":"quantitative"}}},
{"mark":{"type":"circle","size":85,"opacity":1},"encoding":{"x":{"field":"est","type":"quantitative"},"y":{"field":"row","type":"quantitative"},"color":{"field":"row","type":"quantitative","scale":{"type":"threshold","domain":[3.5,7.5,9.5],"range":["#1f7bbf","#e4465f","#2a8a3a","#f6a55c"]},"legend":null}}},
{"transform":[{"calculate":"'(' + datum.n + ')'","as":"nt"}],"mark":{"type":"text","align":"left","baseline":"middle","dx":2,"fontSize":14,"color":"#222222"},"encoding":{"x":{"datum":-30,"type":"quantitative"},"y":{"field":"row","type":"quantitative"},"text":{"field":"nt"}}},
{"transform":[{"filter":"datum.side === 'L'"}],"mark":{"type":"text","align":"right","baseline":"middle","dx":-3,"dy":4,"fontSize":14,"color":"#333333"},"encoding":{"x":{"field":"lo","type":"quantitative"},"y":{"field":"row","type":"quantitative"},"text":{"field":"s"}}},
{"transform":[{"filter":"datum.side === 'R'"}],"mark":{"type":"text","align":"left","baseline":"middle","dx":4,"dy":4,"fontSize":14,"color":"#333333"},"encoding":{"x":{"field":"hi","type":"quantitative"},"y":{"field":"row","type":"quantitative"},"text":{"field":"s"}}},
{"data":{"name":"stats"},"transform":[{"filter":"datum.p === 'LFOC'"},{"calculate":"'Qₘ=' + datum.q","as":"qt"}],"mark":{"type":"text","align":"right","baseline":"middle","dx":-2,"dy":-5,"fontSize":14,"color":"#111111"},"encoding":{"x":{"datum":80,"type":"quantitative"},"y":{"field":"row","type":"quantitative"},"text":{"field":"qt"}}},
{"data":{"name":"stats"},"transform":[{"filter":"datum.p === 'LFOC'"}],"mark":{"type":"text","align":"left","baseline":"middle","dx":-53,"dy":15,"fontSize":14,"fontStyle":"italic","color":"#111111","text":"p"},"encoding":{"x":{"datum":80,"type":"quantitative"},"y":{"field":"row","type":"quantitative"}}},
{"data":{"name":"stats"},"transform":[{"filter":"datum.p === 'LFOC'"}],"mark":{"type":"text","align":"left","baseline":"middle","dx":-45,"dy":15,"fontSize":14,"color":"#111111"},"encoding":{"x":{"datum":80,"type":"quantitative"},"y":{"field":"row","type":"quantitative"},"text":{"field":"pv"}}},
{"data":{"values":[{}]},"mark":{"type":"text","align":"left","baseline":"middle","dx":7,"fontSize":13,"color":"#333333","text":"(f)"},"encoding":{"x":{"datum":-30,"type":"quantitative"},"y":{"datum":0.19,"type":"quantitative"}}},
{"data":{"values":[{}]},"mark":{"type":"text","align":"center","baseline":"middle","fontSize":16,"fontWeight":"bold","color":"#111111","text":"LFOC"},"encoding":{"x":{"datum":28.3,"type":"quantitative"},"y":{"datum":0.19,"type":"quantitative"}}}]},

{"width":200,"height":337,"data":{"name":"rows"},"transform":[{"filter":"datum.p === 'POXC'"}],"layer":[
{"data":{"values":[{}]},"mark":{"type":"rect","color":"#d9d9d9"},"encoding":{"x":{"datum":-30,"type":"quantitative","scale":{"domain":[-30,60],"nice":false,"zero":false},"axis":{"values":[-20,0,20,40,60],"title":null}},"x2":{"datum":60},"y":{"datum":-0.12,"type":"quantitative","scale":{"domain":[-0.12,11.5],"reverse":true,"nice":false,"zero":false},"axis":{"values":[1,2,3,4,5,6,7,8,9,10,11],"title":null,"labels":false}},"y2":{"datum":0.5}}},
{"data":{"values":[{"b":3.5},{"b":7.5},{"b":9.5}]},"mark":{"type":"rule","color":"#c8c8c8","strokeWidth":1.5},"encoding":{"x":{"datum":-30,"type":"quantitative"},"x2":{"datum":60},"y":{"field":"b","type":"quantitative"}}},
{"data":{"values":[{}]},"mark":{"type":"rule","color":"#e0443f","strokeDash":[4,3],"strokeWidth":1},"encoding":{"x":{"datum":0,"type":"quantitative"},"y":{"datum":0.5,"type":"quantitative"},"y2":{"datum":11.5}}},
{"data":{"values":[{"e":-30},{"e":60}]},"mark":{"type":"rule","color":"#333333","strokeWidth":1.5},"encoding":{"x":{"field":"e","type":"quantitative"},"y":{"datum":0.5,"type":"quantitative"},"y2":{"datum":11.5}}},
{"mark":{"type":"rule","color":"#444444","strokeWidth":1.5},"encoding":{"x":{"field":"lo","type":"quantitative"},"x2":{"field":"hi"},"y":{"field":"row","type":"quantitative"}}},
{"mark":{"type":"tick","orient":"vertical","color":"#444444","size":7,"thickness":1.5},"encoding":{"x":{"field":"lo","type":"quantitative"},"y":{"field":"row","type":"quantitative"}}},
{"mark":{"type":"tick","orient":"vertical","color":"#444444","size":7,"thickness":1.5},"encoding":{"x":{"field":"hi","type":"quantitative"},"y":{"field":"row","type":"quantitative"}}},
{"mark":{"type":"circle","size":85,"opacity":1},"encoding":{"x":{"field":"est","type":"quantitative"},"y":{"field":"row","type":"quantitative"},"color":{"field":"row","type":"quantitative","scale":{"type":"threshold","domain":[3.5,7.5,9.5],"range":["#1f7bbf","#e4465f","#2a8a3a","#f6a55c"]},"legend":null}}},
{"transform":[{"calculate":"'(' + datum.n + ')'","as":"nt"}],"mark":{"type":"text","align":"left","baseline":"middle","dx":2,"fontSize":14,"color":"#222222"},"encoding":{"x":{"datum":-30,"type":"quantitative"},"y":{"field":"row","type":"quantitative"},"text":{"field":"nt"}}},
{"transform":[{"filter":"datum.side === 'L'"}],"mark":{"type":"text","align":"right","baseline":"middle","dx":-3,"dy":4,"fontSize":14,"color":"#333333"},"encoding":{"x":{"field":"lo","type":"quantitative"},"y":{"field":"row","type":"quantitative"},"text":{"field":"s"}}},
{"transform":[{"filter":"datum.side === 'R'"}],"mark":{"type":"text","align":"left","baseline":"middle","dx":3,"dy":4,"fontSize":14,"color":"#333333"},"encoding":{"x":{"field":"hi","type":"quantitative"},"y":{"field":"row","type":"quantitative"},"text":{"field":"s"}}},
{"data":{"name":"stats"},"transform":[{"filter":"datum.p === 'POXC'"},{"calculate":"'Qₘ=' + datum.q","as":"qt"}],"mark":{"type":"text","align":"right","baseline":"middle","dx":-2,"dy":-5,"fontSize":14,"color":"#111111"},"encoding":{"x":{"datum":60,"type":"quantitative"},"y":{"field":"row","type":"quantitative"},"text":{"field":"qt"}}},
{"data":{"name":"stats"},"transform":[{"filter":"datum.p === 'POXC'"}],"mark":{"type":"text","align":"left","baseline":"middle","dx":-53,"dy":15,"fontSize":14,"fontStyle":"italic","color":"#111111","text":"p"},"encoding":{"x":{"datum":60,"type":"quantitative"},"y":{"field":"row","type":"quantitative"}}},
{"data":{"name":"stats"},"transform":[{"filter":"datum.p === 'POXC'"}],"mark":{"type":"text","align":"left","baseline":"middle","dx":-45,"dy":15,"fontSize":14,"color":"#111111"},"encoding":{"x":{"datum":60,"type":"quantitative"},"y":{"field":"row","type":"quantitative"},"text":{"field":"pv"}}},
{"data":{"values":[{}]},"mark":{"type":"text","align":"left","baseline":"middle","dx":7,"fontSize":13,"color":"#333333","text":"(g)"},"encoding":{"x":{"datum":-30,"type":"quantitative"},"y":{"datum":0.19,"type":"quantitative"}}},
{"data":{"values":[{}]},"mark":{"type":"text","align":"center","baseline":"middle","fontSize":16,"fontWeight":"bold","color":"#111111","text":"POXC"},"encoding":{"x":{"datum":15.45,"type":"quantitative"},"y":{"datum":0.19,"type":"quantitative"}}}]},

{"width":200,"height":337,"data":{"name":"rows"},"transform":[{"filter":"datum.p === 'SMC'"}],"layer":[
{"data":{"values":[{}]},"mark":{"type":"rect","color":"#d9d9d9"},"encoding":{"x":{"datum":-20,"type":"quantitative","scale":{"domain":[-20,40],"nice":false,"zero":false},"axis":{"values":[-20,0,20,40],"title":null}},"x2":{"datum":40},"y":{"datum":-0.12,"type":"quantitative","scale":{"domain":[-0.12,11.5],"reverse":true,"nice":false,"zero":false},"axis":{"values":[1,2,3,4,5,6,7,8,9,10,11],"title":null,"labels":false}},"y2":{"datum":0.5}}},
{"data":{"values":[{"b":3.5},{"b":7.5},{"b":9.5}]},"mark":{"type":"rule","color":"#c8c8c8","strokeWidth":1.5},"encoding":{"x":{"datum":-20,"type":"quantitative"},"x2":{"datum":40},"y":{"field":"b","type":"quantitative"}}},
{"data":{"values":[{}]},"mark":{"type":"rule","color":"#e0443f","strokeDash":[4,3],"strokeWidth":1},"encoding":{"x":{"datum":0,"type":"quantitative"},"y":{"datum":0.5,"type":"quantitative"},"y2":{"datum":11.5}}},
{"data":{"values":[{"e":-20},{"e":40}]},"mark":{"type":"rule","color":"#333333","strokeWidth":1.5},"encoding":{"x":{"field":"e","type":"quantitative"},"y":{"datum":0.5,"type":"quantitative"},"y2":{"datum":11.5}}},
{"mark":{"type":"rule","color":"#444444","strokeWidth":1.5},"encoding":{"x":{"field":"lo","type":"quantitative"},"x2":{"field":"hi"},"y":{"field":"row","type":"quantitative"}}},
{"mark":{"type":"tick","orient":"vertical","color":"#444444","size":7,"thickness":1.5},"encoding":{"x":{"field":"lo","type":"quantitative"},"y":{"field":"row","type":"quantitative"}}},
{"mark":{"type":"tick","orient":"vertical","color":"#444444","size":7,"thickness":1.5},"encoding":{"x":{"field":"hi","type":"quantitative"},"y":{"field":"row","type":"quantitative"}}},
{"mark":{"type":"circle","size":85,"opacity":1},"encoding":{"x":{"field":"est","type":"quantitative"},"y":{"field":"row","type":"quantitative"},"color":{"field":"row","type":"quantitative","scale":{"type":"threshold","domain":[3.5,7.5,9.5],"range":["#1f7bbf","#e4465f","#2a8a3a","#f6a55c"]},"legend":null}}},
{"transform":[{"calculate":"'(' + datum.n + ')'","as":"nt"}],"mark":{"type":"text","align":"left","baseline":"middle","dx":2,"fontSize":14,"color":"#222222"},"encoding":{"x":{"datum":-20,"type":"quantitative"},"y":{"field":"row","type":"quantitative"},"text":{"field":"nt"}}},
{"transform":[{"filter":"datum.side === 'L'"}],"mark":{"type":"text","align":"right","baseline":"middle","dx":-3,"dy":4,"fontSize":14,"color":"#333333"},"encoding":{"x":{"field":"lo","type":"quantitative"},"y":{"field":"row","type":"quantitative"},"text":{"field":"s"}}},
{"transform":[{"filter":"datum.side === 'R'"}],"mark":{"type":"text","align":"left","baseline":"middle","dx":4,"dy":4,"fontSize":14,"color":"#333333"},"encoding":{"x":{"field":"hi","type":"quantitative"},"y":{"field":"row","type":"quantitative"},"text":{"field":"s"}}},
{"data":{"name":"stats"},"transform":[{"filter":"datum.p === 'SMC'"},{"calculate":"'Qₘ=' + datum.q","as":"qt"}],"mark":{"type":"text","align":"right","baseline":"middle","dx":-2,"dy":-5,"fontSize":14,"color":"#111111"},"encoding":{"x":{"datum":40,"type":"quantitative"},"y":{"field":"row","type":"quantitative"},"text":{"field":"qt"}}},
{"data":{"name":"stats"},"transform":[{"filter":"datum.p === 'SMC'"}],"mark":{"type":"text","align":"left","baseline":"middle","dx":-53,"dy":15,"fontSize":14,"fontStyle":"italic","color":"#111111","text":"p"},"encoding":{"x":{"datum":40,"type":"quantitative"},"y":{"field":"row","type":"quantitative"}}},
{"data":{"name":"stats"},"transform":[{"filter":"datum.p === 'SMC'"}],"mark":{"type":"text","align":"left","baseline":"middle","dx":-45,"dy":15,"fontSize":14,"color":"#111111"},"encoding":{"x":{"datum":40,"type":"quantitative"},"y":{"field":"row","type":"quantitative"},"text":{"field":"pv"}}},
{"data":{"values":[{}]},"mark":{"type":"text","align":"left","baseline":"middle","dx":7,"fontSize":13,"color":"#333333","text":"(h)"},"encoding":{"x":{"datum":-20,"type":"quantitative"},"y":{"datum":0.19,"type":"quantitative"}}},
{"data":{"values":[{}]},"mark":{"type":"text","align":"center","baseline":"middle","fontSize":16,"fontWeight":"bold","color":"#111111","text":"SMC"},"encoding":{"x":{"datum":10.75,"type":"quantitative"},"y":{"datum":0.19,"type":"quantitative"}}}]}
]
}
